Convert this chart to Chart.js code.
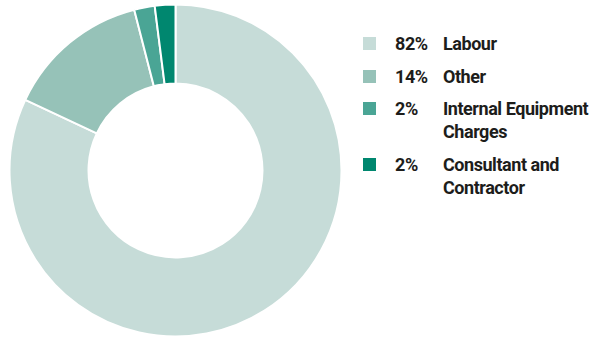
<!DOCTYPE html>
<html>
<head>
<meta charset="utf-8">
<script src="https://cdn.jsdelivr.net/npm/chart.js@4/dist/chart.umd.min.js"></script>
<style>
  html, body { margin: 0; padding: 0; background: #fff; }
  #wrap { position: relative; width: 600px; height: 339px; overflow: hidden; }
  #chartBox { position: absolute; left: 0; top: 0; width: 351px; height: 340px; }
  #legend { position: absolute; left: 363px; top: 32px; font-family: Roboto, "Noto Sans", sans-serif; font-weight: 700; font-size: 18px; color: #1d1d1b; letter-spacing: -0.45px; }
  .item { position: relative; display: flex; align-items: flex-start; line-height: 23px; margin-bottom: 9.5px; }
  .sw { width: 13px; height: 13px; margin-top: 5px; flex: none; }
  .pct { width: 48px; margin-left: 19px; flex: none; }
  .lab { width: 180px; white-space: nowrap; }
</style>
</head>
<body>
<div id="wrap">
  <div id="chartBox"><canvas id="c"></canvas></div>
  <div id="legend"></div>
</div>
<script>
// Spending breakdown by category (percent of total)
const categories = ["Labour", "Other", "Internal Equipment Charges", "Consultant and Contractor"];
const legendLines = [["Labour"], ["Other"], ["Internal Equipment", "Charges"], ["Consultant and", "Contractor"]];
const shares = [82, 14, 2, 2];
const colors = ["#c6dcd8", "#96c2b8", "#4aa595", "#00876f"];

new Chart(document.getElementById("c"), {
  type: "doughnut",
  data: {
    labels: categories,
    datasets: [{
      data: shares,
      backgroundColor: colors,
      borderColor: "#ffffff",
      borderWidth: 2,
      hoverOffset: 0
    }]
  },
  options: {
    responsive: true,
    maintainAspectRatio: false,
    animation: false,
    cutout: "52.4%",
    layout: { padding: { top: 3.5, bottom: 2.5, left: 0, right: 0 } },
    plugins: { legend: { display: false }, tooltip: { enabled: false } }
  }
});

// Legend: swatch, share and wrapped category name
const legend = document.getElementById("legend");
categories.forEach((name, i) => {
  const row = document.createElement("div");
  row.className = "item";
  const sw = document.createElement("div");
  sw.className = "sw";
  sw.style.background = colors[i];
  const pct = document.createElement("div");
  pct.className = "pct";
  pct.textContent = shares[i] + "%";
  const lab = document.createElement("div");
  lab.className = "lab";
  lab.innerHTML = legendLines[i].join("<br>");
  row.append(sw, pct, lab);
  legend.appendChild(row);
});
</script>
</body>
</html>
